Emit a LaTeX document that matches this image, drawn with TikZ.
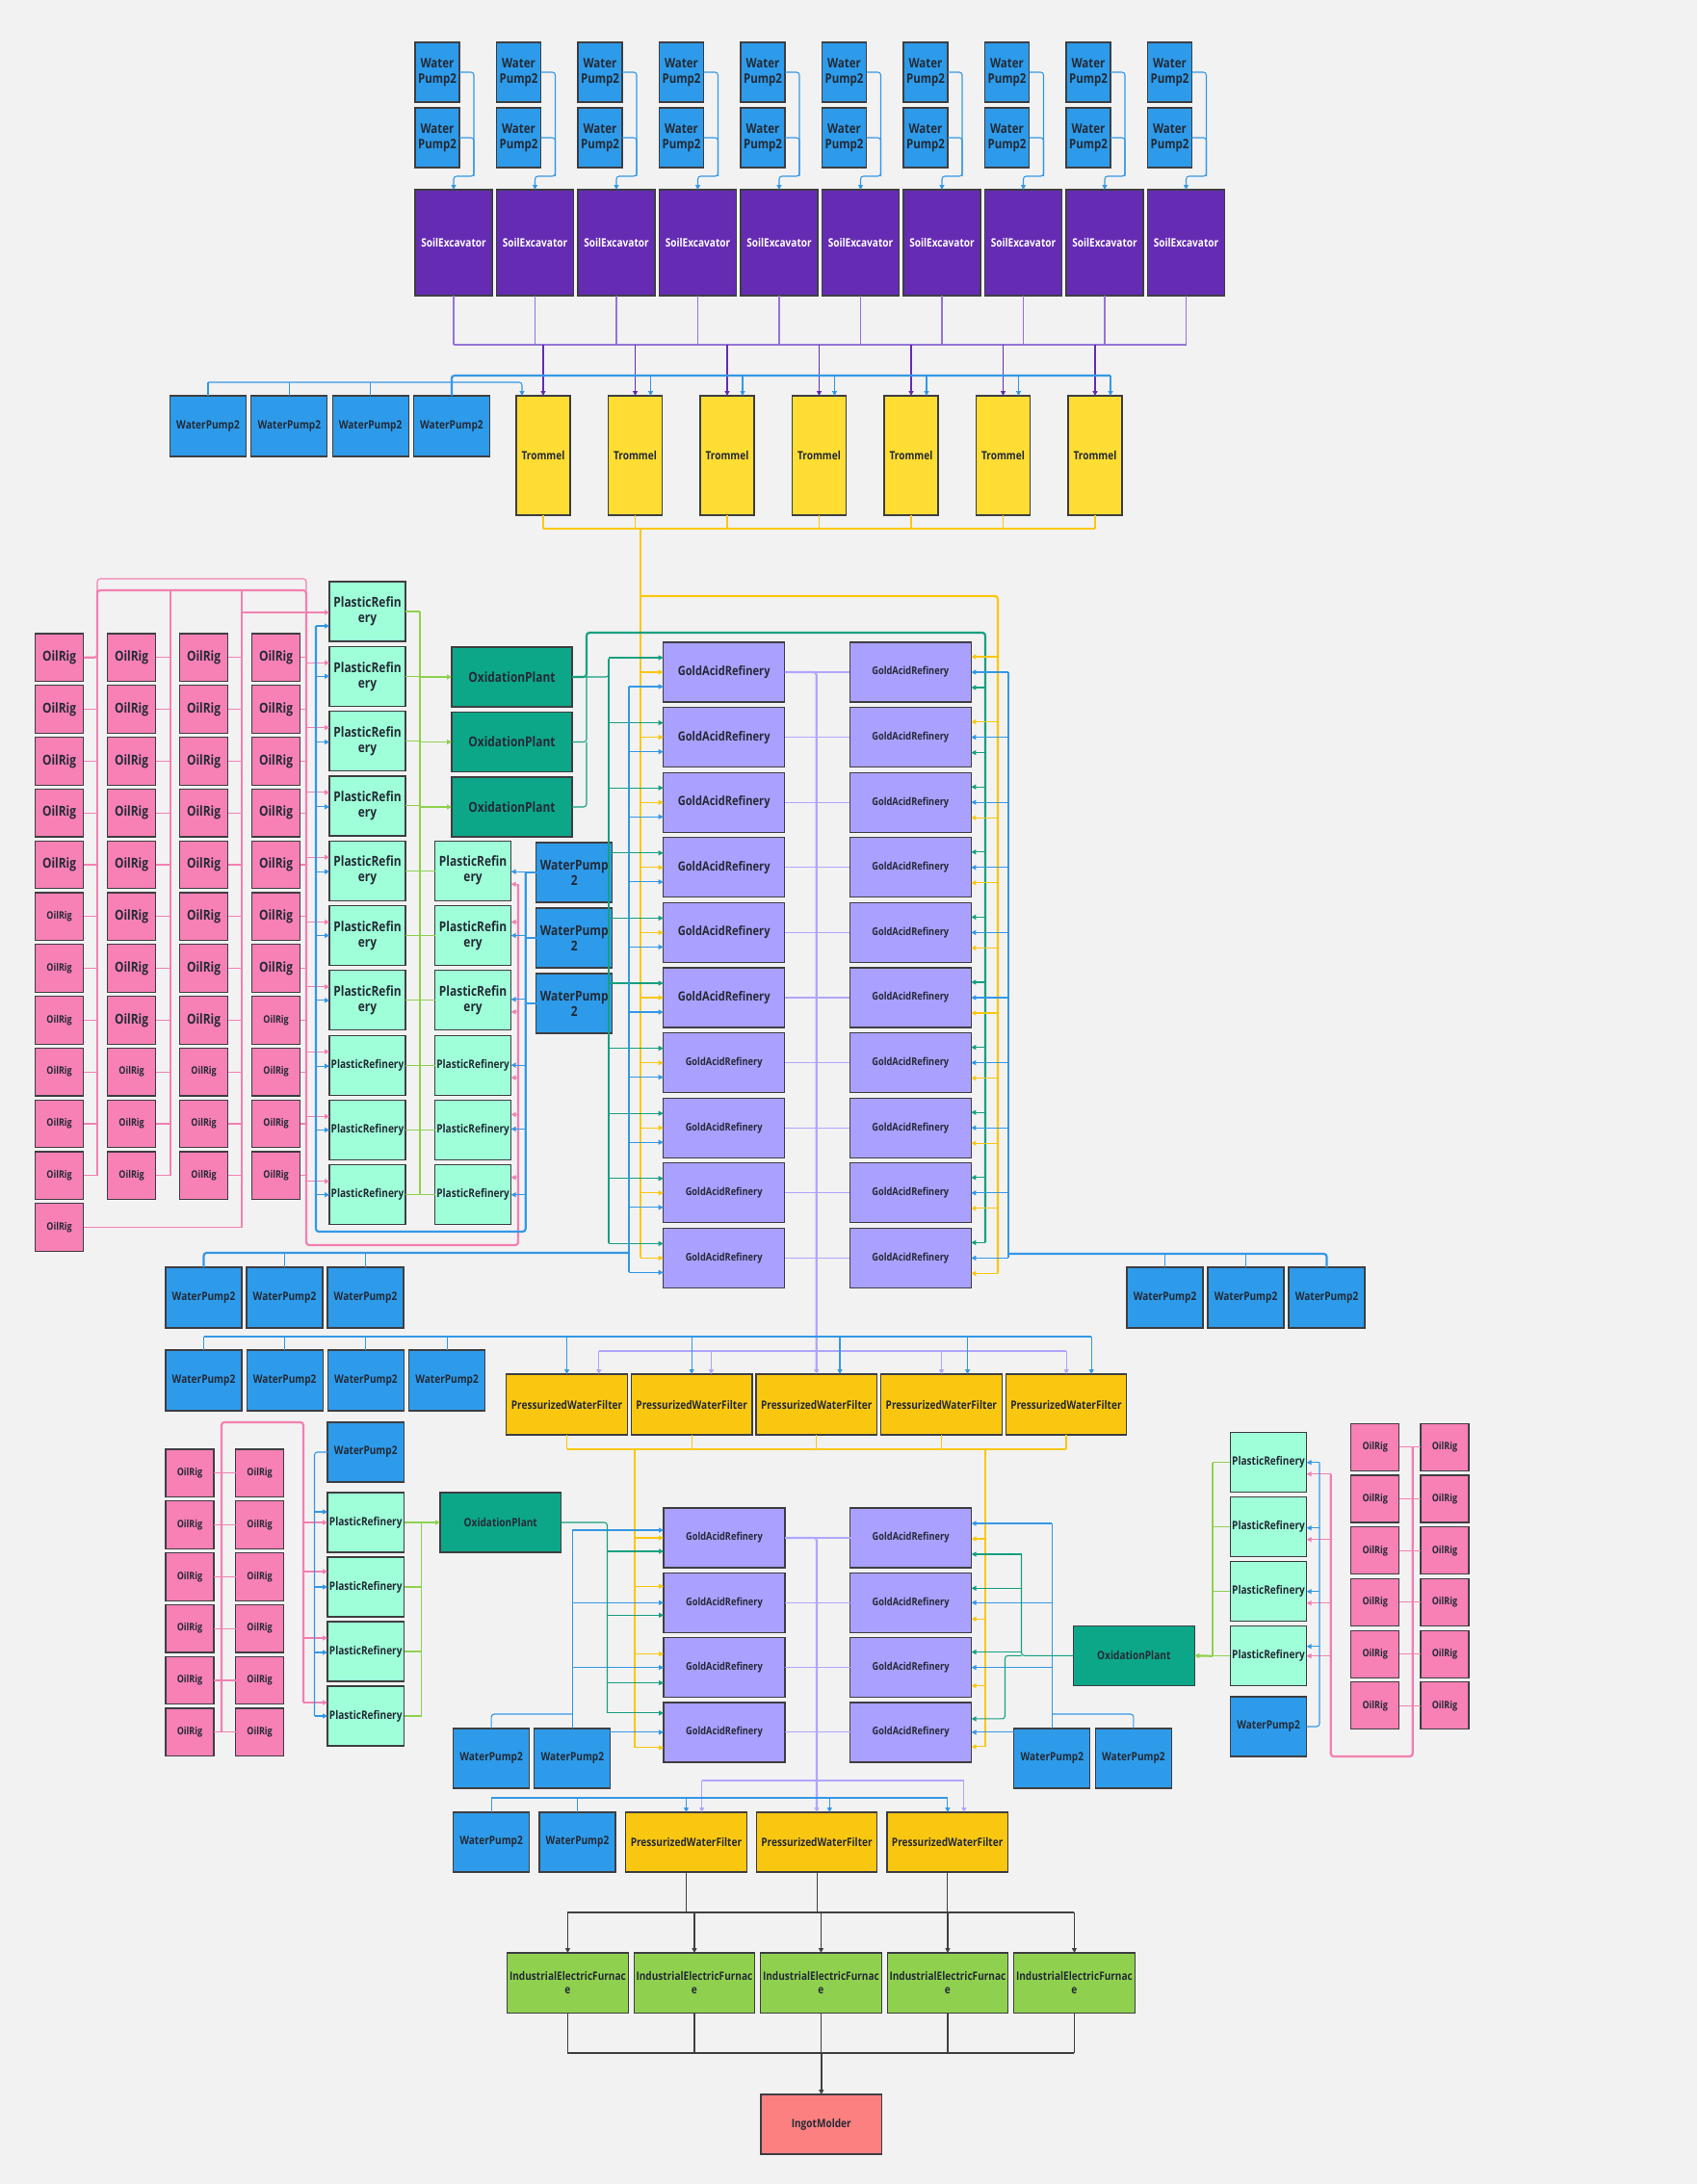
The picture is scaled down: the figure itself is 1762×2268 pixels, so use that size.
\documentclass[tikz,border=0pt]{standalone}
\usepackage{fontspec}
\setmainfont{Open Sans}[FakeStretch=0.84]
\usetikzlibrary{arrows.meta,calc,positioning}
\definecolor{BgGray}{RGB}{242,242,242}
\definecolor{EdgeGray}{RGB}{62,62,66}
\definecolor{TextDark}{RGB}{36,42,54}
\definecolor{PumpBlue}{RGB}{45,155,234}
\definecolor{ExcPurple}{RGB}{101,44,179}
\definecolor{TromYellow}{RGB}{255,221,51}
\definecolor{PlastMint}{RGB}{158,255,216}
\definecolor{OxTeal}{RGB}{12,167,137}
\definecolor{GoldLav}{RGB}{169,160,255}
\definecolor{RigPink}{RGB}{247,128,181}
\definecolor{FiltGold}{RGB}{250,199,16}
\definecolor{FurnGreen}{RGB}{143,209,79}
\definecolor{MoldRed}{RGB}{252,128,128}
\definecolor{WireBlue}{RGB}{52,152,230}
\definecolor{WirePink}{RGB}{242,128,178}
\definecolor{WireGreen}{RGB}{143,209,79}
\definecolor{WireTeal}{RGB}{22,160,128}
\definecolor{WirePurple}{RGB}{150,115,215}
\definecolor{WireLav}{RGB}{176,166,255}
\definecolor{WireYellow}{RGB}{250,199,16}
\definecolor{WireDark}{RGB}{64,64,64}

\tikzset{
  block/.style={draw=EdgeGray, line width=1.2pt, inner sep=1pt, outer sep=0pt,
    align=center, text=TextDark, anchor=north west},
  dims/.style 2 args={minimum width=#1pt, minimum height=#2pt},
  fsz/.style 2 args={font=\bfseries\fontsize{#1}{#2}\selectfont},
  tA/.style={fsz={14.2}{16}},
  tB/.style={fsz={13.7}{16}},
  tC/.style={fsz={13.2}{15}},
  tD/.style={fsz={12}{14}},
  tE/.style={fsz={11}{13}},
  tF/.style={fsz={10.7}{13}},
  pump/.style={block, fill=PumpBlue},
  excavator/.style={block, fill=ExcPurple, text=white},
  trommel/.style={block, fill=TromYellow},
  plastic/.style={block, fill=PlastMint},
  oxid/.style={block, fill=OxTeal},
  goldacid/.style={block, fill=GoldLav},
  oilrig/.style={block, fill=RigPink},
  filter/.style={block, fill=FiltGold},
  furnace/.style={block, fill=FurnGreen},
  molder/.style={block, fill=MoldRed},
  wire/.style={rounded corners=3pt, line width=1.1pt},
  heavy/.style={line width=2.2pt},
  bluew/.style={wire, draw=WireBlue},
  pinkw/.style={wire, draw=WirePink},
  greenw/.style={wire, draw=WireGreen},
  tealw/.style={wire, draw=WireTeal},
  purw/.style={wire, draw=WirePurple},
  purdrop/.style={wire, draw=ExcPurple, line width=1.8pt},
  lavw/.style={wire, draw=WireLav},
  yelw/.style={wire, draw=WireYellow},
  darkw/.style={wire, draw=WireDark},
}

\begin{document}
\begin{tikzpicture}[x=1pt,y=-1pt,>={Triangle[length=5pt,width=5pt]}]
\fill[BgGray] (0,0) rectangle (1762,2268);

% top: water pumps over soil excavators
\foreach \i in {0,...,9}{
  \pgfmathsetmacro\xl{431+84.5*\i}
  \node[pump, dims={46}{62}, tB] (tpa\i) at (\xl,44) {Water\\Pump2};
  \node[pump, dims={46}{62}, tB] (tpb\i) at (\xl,112) {Water\\Pump2};
  \node[excavator, dims={80}{110}, tD] (se\i) at (\xl,197) {SoilExcavator};
}

% trommels and their pumps
\foreach \j in {0,...,6}{
  \pgfmathsetmacro\xl{536+95.5*\j}
  \node[trommel, dims={56}{124}, tD] (tr\j) at (\xl,411) {Trommel};
}
\foreach \i in {0,...,3}{
  \pgfmathsetmacro\xl{176.5+84.3*\i}
  \node[pump, dims={79}{63}, tD] (wpt\i) at (\xl,411) {WaterPump2};
}

% oil rigs, upper left
\foreach \c/\n in {0/11,1/10,2/10,3/10}{
  \foreach \k in {0,...,\n}{
    \pgfmathsetmacro\xl{36.6+75*\c}
    \pgfmathsetmacro\yt{658+53.8*\k}
    \pgfmathtruncatemacro\sm{((\c==0)&&(\k>=5))||(\k>=8)||((\c==3)&&(\k==7))}
    \ifnum\sm=1 \def\rfs{10.7}\else\def\rfs{14.2}\fi
    \node[oilrig, dims={50}{49.5}, font=\bfseries\fontsize{\rfs}{15}\selectfont] (or\c-\k) at (\xl,\yt) {OilRig};
  }
}

% plastic refineries, oxidation plants, pumps
\foreach \k in {0,...,9}{
  \pgfmathsetmacro\yt{604+67.3*\k}
  \ifnum\k<7
    \node[plastic, dims={79}{62}, tA] (pra\k) at (342,\yt) {PlasticRefin\\ery};
  \else
    \node[plastic, dims={79}{62}, tD] (pra\k) at (342,\yt) {PlasticRefinery};
  \fi
}
\foreach \k in {0,...,5}{
  \pgfmathsetmacro\yt{873.2+67.3*\k}
  \ifnum\k<3
    \node[plastic, dims={79}{62}, tA] (prb\k) at (451.6,\yt) {PlasticRefin\\ery};
  \else
    \node[plastic, dims={79}{62}, tD] (prb\k) at (451.6,\yt) {PlasticRefinery};
  \fi
}
\foreach \k in {0,1,2}{
  \pgfmathsetmacro\yt{672+67.5*\k}
  \node[oxid, dims={125}{62}, tA] (ox\k) at (469,\yt) {OxidationPlant};
  \pgfmathsetmacro\yt{875+68*\k}
  \node[pump, dims={79}{62}, tA] (wpr\k) at (556.8,\yt) {WaterPump\\2};
}

% gold acid refineries, upper block
\foreach \k in {0,...,9}{
  \pgfmathsetmacro\yt{667+67.6*\k}
  \ifnum\k<6
    \node[goldacid, dims={126}{62}, tC] (gl\k) at (688.7,\yt) {GoldAcidRefinery};
  \else
    \node[goldacid, dims={126}{62}, tE] (gl\k) at (688.7,\yt) {GoldAcidRefinery};
  \fi
  \node[goldacid, dims={126}{62}, tE] (gr\k) at (882.3,\yt) {GoldAcidRefinery};
  \coordinate (glT\k) at ($(gl\k.west)+(0,-15)$);
  \coordinate (glB\k) at ($(gl\k.west)+(0,15)$);
  \coordinate (grT\k) at ($(gr\k.east)+(0,-16)$);
  \coordinate (grB\k) at ($(gr\k.east)+(0,16)$);
}
\foreach \i in {0,1,2}{
  \pgfmathsetmacro\xl{172+84*\i}
  \node[pump, dims={79}{63}, tD] (wpbl\i) at (\xl,1316) {WaterPump2};
  \pgfmathsetmacro\xl{1170+84*\i}
  \node[pump, dims={79}{63}, tD] (wpbr\i) at (\xl,1316) {WaterPump2};
}

% pressurized water filters, middle
\foreach \i in {0,...,3}{
  \pgfmathsetmacro\xl{172+84.2*\i}
  \node[pump, dims={79}{63}, tD] (wpf\i) at (\xl,1402) {WaterPump2};
}
\foreach \k in {0,...,4}{
  \pgfmathsetmacro\xl{525.8+129.6*\k}
  \node[filter, dims={125.5}{63}, tD] (pwf\k) at (\xl,1427) {PressurizedWaterFilter};
}

% lower left group
\foreach \k in {0,...,5}{
  \pgfmathsetmacro\yt{1505+53.8*\k}
  \node[oilrig, dims={50}{49.5}, tF] (lra\k) at (172,\yt) {OilRig};
  \node[oilrig, dims={50}{49.5}, tF] (lrb\k) at (244.6,\yt) {OilRig};
}
\node[pump, dims={79.5}{62}, tD] (wpll) at (340,1477) {WaterPump2};
\foreach \k in {0,...,3}{
  \pgfmathsetmacro\yt{1550+67*\k}
  \node[plastic, dims={79.5}{62}, tD] (prl\k) at (340,\yt) {PlasticRefinery};
}
\node[oxid, dims={125.5}{62}, tD] (oxl) at (457,1550) {OxidationPlant};

% lower gold acid refineries
\foreach \k in {0,...,3}{
  \pgfmathsetmacro\yt{1566+67.3*\k}
  \node[goldacid, dims={126}{62}, tE] (glb\k) at (689,\yt) {GoldAcidRefinery};
  \node[goldacid, dims={126}{62}, tE] (grb\k) at (882.6,\yt) {GoldAcidRefinery};
}
\node[pump, dims={79}{62}, tD] (wpgl0) at (470.6,1795) {WaterPump2};
\node[pump, dims={79}{62}, tD] (wpgl1) at (554.8,1795) {WaterPump2};
\node[pump, dims={79}{62}, tD] (wpgr0) at (1052.8,1795) {WaterPump2};
\node[pump, dims={79}{62}, tD] (wpgr1) at (1137.4,1795) {WaterPump2};

% lower right group
\node[oxid, dims={126}{62}, tD] (oxr) at (1114.3,1688.3) {OxidationPlant};
\foreach \k in {0,...,3}{
  \pgfmathsetmacro\yt{1487.7+67*\k}
  \node[plastic, dims={79.4}{62}, tD] (prr\k) at (1277.3,\yt) {PlasticRefinery};
}
\node[pump, dims={79.4}{62}, tD] (wprr) at (1277.3,1762) {WaterPump2};
\foreach \k in {0,...,5}{
  \pgfmathsetmacro\yt{1478.3+53.7*\k}
  \node[oilrig, dims={50}{49}, tF] (rra\k) at (1402.7,\yt) {OilRig};
  \node[oilrig, dims={50}{49}, tF] (rrb\k) at (1475,\yt) {OilRig};
}

% bottom: filters, furnaces, molder
\node[pump, dims={79}{62}, tD] (wpz0) at (470.6,1882) {WaterPump2};
\node[pump, dims={79}{62}, tD] (wpz1) at (560,1882) {WaterPump2};
\foreach \k in {0,1,2}{
  \pgfmathsetmacro\xl{649.7+135.6*\k}
  \node[filter, dims={125.5}{62}, tD] (pwz\k) at (\xl,1882) {PressurizedWaterFilter};
}
\foreach \k in {0,...,4}{
  \pgfmathsetmacro\xl{526.7+131.5*\k}
  \node[furnace, dims={125.5}{62.5}, tD] (ief\k) at (\xl,2028) {IndustrialElectricFurnac\\e};
}
\node[molder, dims={125.5}{62}, tD] (ing) at (790,2175) {IngotMolder};

%% ---------------- connectors ----------------
% pumps -> excavators
\foreach \i in {0,...,9}{
  \coordinate (tj\i) at ($(se\i.north)+(21,-14)$);
  \draw[bluew] (tpa\i.east) -| (tj\i);
  \draw[bluew,->] (tpb\i.east) -| (tj\i) -| (se\i.north);
}

% excavators -> trommels
\coordinate (pbus) at (0,358);
\foreach \i in {0,...,9}
  \draw[purw] (se\i.south) -- (se\i.south |- pbus);
\draw[purw] (se0.south |- pbus) -- (se9.south |- pbus);
\foreach \j in {0,...,6}
  \draw[purdrop,->] (tr\j.north |- pbus) -- (tr\j.north);

% pumps -> trommels
\coordinate (wbA) at (0,397);
\coordinate (wbB) at (0,390);
\coordinate (tin0) at ($(tr0.north west)+(6,0)$);
\foreach \j in {1,...,6}
  \coordinate (tin\j) at ($(tr\j.north west)+(44,0)$);
\foreach \i in {0,1,2}
  \draw[bluew] (wpt\i.north) -- (wpt\i.north |- wbA);
\draw[bluew,->] (wpt0.north |- wbA) -| (tin0);
\draw[bluew,heavy] (wpt3.north) |- (tin6 |- wbB);
\foreach \j in {1,...,6}
  \draw[bluew,->] (tin\j |- wbB) -- (tin\j);

% trommels -> gold acid refineries
\coordinate (ybus) at (0,549);
\foreach \j in {0,...,6}
  \draw[yelw] (tr\j.south) -- (tr\j.south |- ybus);
\draw[yelw] (tr0.south |- ybus) -- (tr6.south |- ybus);
\coordinate (ylx) at (665,549);
\coordinate (yrx) at (1036,619);
\draw[yelw,heavy] (ylx) -- (ylx |- gl9.west);
\draw[yelw,heavy] (ylx |- yrx) -- (yrx) -- (grB9 -| yrx);
\foreach \k in {0,...,9}
  \draw[yelw,->] (ylx |- gl\k.west) -- (gl\k.west);

% oxidation plants -> gold acid refineries
\coordinate (tv) at (609,657);
\coordinate (trx) at (1023,657);
\coordinate (tlx) at (632,684);
\draw[tealw] (ox2.east) -| (ox1.east -| tv);
\draw[tealw] (ox1.east) -| (ox0.east -| tv);
\draw[tealw,heavy] (ox0.east) -| (tv) -- (trx) -- (grT9 -| trx);
\draw[tealw] (ox0.east -| tv) -| (tlx);
\draw[tealw] (tlx) -- (glT9 -| tlx);
\foreach \k in {0,...,9}
  \draw[tealw,->] (glT\k -| tlx) -- (glT\k);
\foreach \k in {0,1}{
  \draw[yelw,->] (grT\k -| yrx) -- (grT\k);
  \draw[tealw,->] (grB\k -| trx) -- (grB\k);
}
\foreach \k in {2,...,9}{
  \draw[yelw,->] (grB\k -| yrx) -- (grB\k);
  \draw[tealw,->] (grT\k -| trx) -- (grT\k);
}

% water for the gold acid refineries
\coordinate (blx) at (653,1301);
\coordinate (brx) at (1047,1302);
\draw[bluew,heavy] (wpbl0.north) |- (blx);
\foreach \i in {1,2}
  \draw[bluew] (wpbl\i.north) -- (wpbl\i.north |- blx);
\draw[bluew] (glB0 -| blx) -- (glB9 -| blx);
\foreach \k in {0,...,9}
  \draw[bluew,->] (glB\k -| blx) -- (glB\k);
\draw[bluew,heavy] (wpbr2.north) |- (brx);
\foreach \i in {0,1}
  \draw[bluew] (wpbr\i.north) -- (wpbr\i.north |- brx);
\draw[bluew] (gr0.east -| brx) -- (gr9.east -| brx);
\foreach \k in {0,...,9}
  \draw[bluew,->] (gr\k.east -| brx) -- (gr\k.east);

% gold acid refineries -> filters
\foreach \k in {0,...,9}
  \draw[lavw] (gl\k.east) -- (gr\k.west);
\draw[lavw,heavy,->] (gl0.east) -| (pwf2.north);
\coordinate (lvb) at (0,1403);
\coordinate (pin0) at ($(pwf0.north west)+(96,0)$);
\coordinate (pin1) at ($(pwf1.north west)+(83,0)$);
\coordinate (pin3) at ($(pwf3.north west)+(63,0)$);
\coordinate (pin4) at ($(pwf4.north west)+(63,0)$);
\draw[lavw] (pin0 |- lvb) -- (pin4 |- lvb);
\foreach \m in {0,1,3,4}
  \draw[lavw,->] (pin\m |- lvb) -- (pin\m);

% pumps -> filters
\coordinate (fbus) at (0,1388);
\coordinate (bin0) at (pwf0.north);
\coordinate (bin1) at (pwf1.north);
\coordinate (bin2) at ($(pwf2.north west)+(87,0)$);
\coordinate (bin3) at ($(pwf3.north west)+(90,0)$);
\coordinate (bin4) at ($(pwf4.north west)+(89,0)$);
\foreach \i in {0,...,3}
  \draw[bluew] (wpf\i.north) -- (wpf\i.north |- fbus);
\draw[bluew] (wpf0.north |- fbus) -- (bin4 |- fbus);
\foreach \m in {0,...,4}
  \draw[bluew,->] (bin\m |- fbus) -- (bin\m);

% filters -> lower gold acid refineries
\coordinate (pyb) at (0,1505);
\foreach \k in {0,...,4}
  \draw[yelw] (pwf\k.south) -- (pwf\k.south |- pyb);
\draw[yelw] (pwf0.south |- pyb) -- (pwf4.south |- pyb);
\coordinate (yl2) at (659,1505);
\coordinate (yr2) at (1023,1505);
\foreach \k/\o in {0/31,1/14,2/17,3/47}
  \coordinate (gly\k) at ($(glb\k.north west)+(0,\o)$);
\foreach \k/\o in {0/32,1/48,2/50,3/46}
  \coordinate (gry\k) at ($(grb\k.north east)+(0,\o)$);
\draw[yelw] (yl2) -- (gly3 -| yl2);
\draw[yelw] (yr2) -- (gry3 -| yr2);
\foreach \k in {0,...,3}{
  \draw[yelw,->] (gly\k -| yl2) -- (gly\k);
  \draw[yelw,->] (gry\k -| yr2) -- (gry\k);
}

% lower left: water and oxidation into refineries
\coordinate (wgj) at (0,1780);
\foreach \k/\o in {0/23,1/31,2/31,3/31}
  \coordinate (glu\k) at ($(glb\k.north west)+(0,\o)$);
\draw[bluew] (wpgl1.north) -- (wpgl1.north |- glu0);
\foreach \k in {0,...,3}
  \draw[bluew,->] (glu\k -| wpgl1.north) -- (glu\k);
\draw[bluew] (wpgl0.north) |- (wgj -| wpgl1.north);
\coordinate (tlx2) at (630.5,0);
\foreach \k/\o in {0/45,1/44,2/47,3/11}
  \coordinate (glt\k) at ($(glb\k.north west)+(0,\o)$);
\draw[tealw] (oxl.east) -| (glt3 -| tlx2);
\foreach \k in {0,...,3}
  \draw[tealw,->] (glt\k -| tlx2) -- (glt\k);

% lower right: water and oxidation into refineries
\foreach \k/\o in {0/16,1/31,2/31,3/31}
  \coordinate (gru\k) at ($(grb\k.north east)+(0,\o)$);
\draw[bluew] (wpgr0.north) -- (wpgr0.north |- gru0);
\foreach \k in {0,...,3}
  \draw[bluew,->] (gru\k -| wpgr0.north) -- (gru\k);
\draw[bluew] (wpgr1.north) |- (wgj -| wpgr0.north);
\coordinate (trx2) at (1060.5,0);
\coordinate (trx3) at (1043.5,0);
\foreach \k/\o in {0/48,1/16,2/15,3/17}
  \coordinate (grt\k) at ($(grb\k.north east)+(0,\o)$);
\draw[tealw] (oxr.west) -| (grt0 -| trx2);
\foreach \k in {0,1,2}
  \draw[tealw,->] (grt\k -| trx2) -- (grt\k);
\draw[tealw,->] (oxr.west -| trx2) -| (grt3 -| trx3) -- (grt3);

% upper left oil rigs -> plastic refineries
\coordinate (pv1) at (101,613);
\coordinate (pv2) at (177,613);
\coordinate (pv3) at (251,636);
\coordinate (pv4) at (318,613);
\coordinate (ploop) at (0,601);
\coordinate (pbl) at (538,1293);
\foreach \k in {0,...,10}{
  \draw[pinkw] (or0-\k.east) -- (or0-\k.east -| pv1);
  \draw[pinkw] (or1-\k.east) -- (or1-\k.east -| pv2);
  \draw[pinkw] (or2-\k.east) -- (or2-\k.east -| pv3);
  \draw[pinkw] (or3-\k.east) -- (or3-\k.east -| pv4);
}
\draw[pinkw] (or0-11.east) -- (or0-11.east -| pv3);
\draw[pinkw] (pv1) -- (or0-10.east -| pv1);
\draw[pinkw] (pv2) -- (or1-10.east -| pv2);
\draw[pinkw] (pv3 |- pv2) -- (or0-11.east -| pv3);
\draw[pinkw] (pv1) -- (pv1 |- ploop) -- (pv4 |- ploop) -- (pv4);
\draw[pinkw,heavy] (or0-0.east) -| (pv1) -- (pv4) -- (pv4 |- pbl) -- (pbl) -- ++(0,-375);
\draw[pinkw,heavy,->] (pv3) -- (pv3 -| pra0.west);
\foreach \k in {1,...,9}{
  \coordinate (pa\k) at ($(pra\k.north west)+(0,17)$);
  \draw[pinkw,->] (pa\k -| pv4) -- (pa\k);
}
\foreach \k/\o in {0/45,1/17,2/43,3/44,4/15,5/13}{
  \coordinate (pb\k) at ($(prb\k.north east)+(0,\o)$);
  \draw[pinkw,->] (pb\k -| pbl) -- (pb\k);
}

% pumps -> plastic refineries, upper left
\coordinate (bwx) at (545.7,1279);
\coordinate (bpx) at (328,650);
\foreach \k in {0,1,2}
  \draw[bluew] (wpr\k.west) -- (wpr\k.west -| bwx);
\draw[bluew,heavy] (wpr0.west -| bwx) -- (bwx) -- (bwx -| bpx) -- (bpx);
\foreach \k/\o in {0/46,1/31,2/32,3/32,4/32,5/31,6/31,7/32,8/31,9/31}{
  \coordinate (pw\k) at ($(pra\k.north west)+(0,\o)$);
  \draw[bluew,->] (pw\k -| bpx) -- (pw\k);
}
\foreach \k/\o in {0/32,1/31,2/30,3/31,4/30,5/31}{
  \coordinate (pq\k) at ($(prb\k.north east)+(0,\o)$);
  \draw[bluew,->] (pq\k -| bwx) -- (pq\k);
}

% plastic refineries -> oxidation plants
\coordinate (gv) at (436,0);
\foreach \k in {0,...,9}
  \draw[greenw] (pra\k.east) -- (pra\k.east -| gv);
\foreach \k in {0,...,5}
  \draw[greenw] (prb\k.west) -- (prb\k.west -| gv);
\draw[greenw,heavy] (pra0.east -| gv) -- (pra9.east -| gv);
\foreach \k in {0,1,2}
  \draw[greenw,->] (ox\k.west -| gv) -- (ox\k.west);

% lower left oil rigs -> plastic refineries -> oxidation plant
\coordinate (lpv) at (230,1477);
\coordinate (lpr) at (315,1477);
\foreach \k in {0,...,5}
  \draw[pinkw] (lra\k.east) -- (lrb\k.west);
\foreach \k/\o in {0/31,1/15,2/17,3/17}
  \coordinate (lp\k) at ($(prl\k.north west)+(0,\o)$);
\draw[pinkw,heavy] (lra5.east -| lpv) -- (lpv) -- (lpr) -- (lp3 -| lpr);
\foreach \k in {0,...,3}
  \draw[pinkw,->] (lp\k -| lpr) -- (lp\k);
\coordinate (lbv) at (326.5,0);
\foreach \k/\o in {0/20,1/31,2/32,3/31}
  \coordinate (lw\k) at ($(prl\k.north west)+(0,\o)$);
\draw[bluew] (wpll.west) -| (lw3 -| lbv);
\foreach \k in {0,...,3}
  \draw[bluew,->] (lw\k -| lbv) -- (lw\k);
\coordinate (lgv) at (437.5,0);
\foreach \k in {0,...,3}
  \draw[greenw] (prl\k.east) -- (prl\k.east -| lgv);
\draw[greenw] (prl0.east -| lgv) -- (prl3.east -| lgv);
\draw[greenw,->] (prl0.east -| lgv) -- (oxl.west);

% lower right oil rigs -> plastic refineries -> oxidation plant
\coordinate (rpv) at (1466.7,1824);
\coordinate (rpb) at (1381.7,1824);
\foreach \k in {0,...,5}
  \draw[pinkw] (rra\k.east) -- (rrb\k.west);
\foreach \k/\o in {0/43,1/44,2/43,3/31}
  \coordinate (rp\k) at ($(prr\k.north east)+(0,\o)$);
\draw[pinkw,heavy] (rra0.east -| rpv) -- (rpv) -- (rpb) -- (rp0 -| rpb);
\foreach \k in {0,...,3}
  \draw[pinkw,->] (rp\k -| rpb) -- (rp\k);
\coordinate (rbv) at (1370,0);
\foreach \k/\o in {0/31,1/32,2/31,3/21}
  \coordinate (rw\k) at ($(prr\k.north east)+(0,\o)$);
\draw[bluew] (wprr.east) -| (rw0 -| rbv);
\foreach \k in {0,...,3}
  \draw[bluew,->] (rw\k -| rbv) -- (rw\k);
\coordinate (rgv) at (1259,0);
\foreach \k in {0,...,3}
  \draw[greenw] (prr\k.west) -- (prr\k.west -| rgv);
\draw[greenw] (prr0.west -| rgv) -- (prr3.west -| rgv);
\draw[greenw,heavy,->] (prr3.west -| rgv) -- (oxr.east);

% lower refineries -> bottom filters
\foreach \k in {0,...,3}
  \draw[lavw] (glb\k.east) -- (grb\k.west);
\draw[lavw,heavy,->] (glb0.east) -| (pwz1.north);
\coordinate (lzb) at (0,1849);
\coordinate (zl0) at ($(pwz0.north west)+(79,0)$);
\coordinate (zl2) at ($(pwz2.north west)+(80,0)$);
\draw[lavw] (zl0 |- lzb) -- (zl2 |- lzb);
\draw[lavw,->] (zl0 |- lzb) -- (zl0);
\draw[lavw,->] (zl2 |- lzb) -- (zl2);
\coordinate (zb) at (0,1867);
\coordinate (zin0) at (pwz0.north);
\coordinate (zin1) at ($(pwz1.north west)+(76,0)$);
\coordinate (zin2) at ($(pwz2.north west)+(63,0)$);
\foreach \i in {0,1}
  \draw[bluew] (wpz\i.north) -- (wpz\i.north |- zb);
\draw[bluew] (wpz0.north |- zb) -- (zin2 |- zb);
\foreach \m in {0,1,2}
  \draw[bluew,->] (zin\m |- zb) -- (zin\m);

% filters -> furnaces -> ingot molder
\coordinate (kb) at (0,1986);
\foreach \k in {0,1,2}
  \draw[darkw] (pwz\k.south) -- (pwz\k.south |- kb);
\draw[darkw] (ief0.north |- kb) -- (ief4.north |- kb);
\foreach \k in {0,...,4}
  \draw[darkw,->] (ief\k.north |- kb) -- (ief\k.north);
\coordinate (mb) at (0,2132);
\foreach \k in {0,...,4}
  \draw[darkw] (ief\k.south) -- (ief\k.south |- mb);
\draw[darkw] (ief0.south |- mb) -- (ief4.south |- mb);
\draw[darkw,heavy,->] (ing.north |- mb) -- (ing.north);
\end{tikzpicture}
\end{document}
